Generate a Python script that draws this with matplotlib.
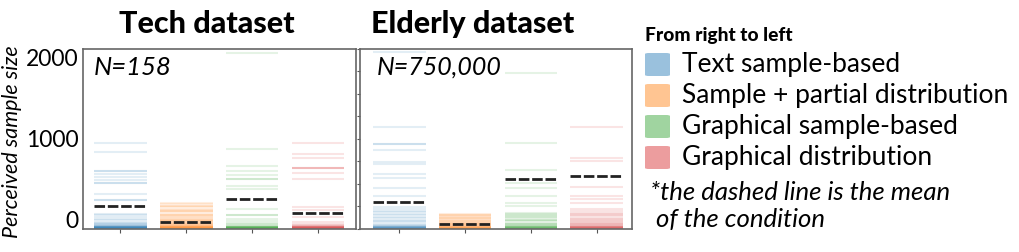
import matplotlib
matplotlib.use('Agg')
import matplotlib.pyplot as plt
from matplotlib.patches import FancyBboxPatch

plt.rcParams['font.family'] = ['Lato', 'DejaVu Sans']


## Data: one line per answer ##
conditions = ['Text sample-based', 'Sample + partial distribution',
              'Graphical sample-based', 'Graphical distribution']
colors = ['#1f77b4', '#ff7f0e', '#2ca02c', '#d62728']

tech_text = [953, 850, 636, 636, 606, 569, 539, 509, 509, 383, 317, 317,
             160, 153, 124, 110, 94, 75, 64, 55, 45, 36, 30, 25, 25, 20, 20,
             18, 15, 15, 12, 10, 10, 10, 8, 5, 5, 5, 0, 0, 0]
tech_partial = [280, 268, 255, 245, 236, 222, 210, 200, 190, 178, 166, 155,
                145, 140, 130, 120, 110, 100, 95, 88, 80, 72, 65, 58, 50,
                45, 40, 35, 30, 28, 25, 22, 20, 18, 15, 12, 10, 10, 8, 5, 5,
                0, 0, 0, 0, 0]
tech_graph_sample = [1953, 887, 694, 642, 591, 553, 553, 472, 436, 220, 147,
                     147, 109, 80, 65, 50, 35, 25, 20, 20, 18, 15, 15, 12, 10,
                     10, 8, 5, 5, 0, 0, 0, 0]
tech_graph_dist = [953, 828, 783, 672, 672, 672, 613, 553, 236, 205, 124, 72,
                   50, 40, 30, 25, 20, 18, 15, 13, 12, 10, 10, 8, 5, 5, 0, 0,
                   0]
tech_means = [253, 76, 331, 176]

elderly_text = [1958, 1131, 936, 936, 872, 742, 713, 606, 558, 453, 364,
                240, 220, 200, 185, 165, 150, 130, 115, 100, 85, 70, 55, 40,
                30, 25, 20, 18, 15, 12, 10, 10, 8, 5, 5, 0, 0, 0]
elderly_partial = [161, 155, 146, 138, 130, 122, 112, 104, 95, 88, 80, 72,
                   65, 58, 52, 46, 40, 34, 28, 25, 22, 18, 15, 12, 10, 8, 5,
                   5, 0, 0, 0, 0, 0]
elderly_graph_sample = [1731, 947, 650, 502, 453, 364, 280, 250, 169, 160,
                        150, 138, 125, 112, 100, 90, 78, 66, 55, 45, 35, 28,
                        25, 20, 18, 15, 12, 10, 8, 5, 5, 0, 0, 0, 0]
elderly_graph_dist = [1131, 783, 753, 464, 361, 331, 287, 213, 190, 172, 160,
                      148, 135, 120, 108, 95, 85, 75, 65, 55, 45, 35, 28, 25,
                      20, 18, 15, 12, 10, 8, 5, 5, 0, 0, 0, 0]
elderly_means = [291, 50, 553, 583]

ylabels = [0, 1000, 2000]
yminor = [0, 250, 500, 750, 1000, 1250, 1500, 1750, 2000]


## Figure layout in pixels ##
W, H = 1019, 252
fig = plt.figure(figsize=(W / 100, H / 100), dpi=100)


def px_axes(x0, y0, x1, y1):
    return fig.add_axes([x0 / W, 1 - y1 / H, (x1 - x0) / W, (y1 - y0) / H])


def draw_panel(ax, answers, means, xlim):
    for i, vals in enumerate(answers):
        ax.hlines(vals, i - 0.4, i + 0.4, color=colors[i], alpha=0.12, lw=1.5)
        ax.plot([i - 0.4, i + 0.4], [means[i], means[i]], color='#222222',
                lw=2, ls=(0, (3.8, 1.0)))
    ax.set_xlim(*xlim)
    ax.set_ylim(0, 2000)
    ax.set_xticks(range(4))
    ax.set_xticklabels([])
    ax.tick_params(axis='x', length=3, color='#555555')
    for sp in ax.spines.values():
        sp.set_color('#666666')
        sp.set_linewidth(1.2)


ax1 = px_axes(83, 48.5, 356, 228.5)
draw_panel(ax1, [tech_text, tech_partial, tech_graph_sample, tech_graph_dist],
           tech_means, (-0.57, 3.58))
ax1.set_yticks(ylabels)
ax1.set_yticklabels([str(t) for t in ylabels], fontsize=16.5)
ax1.tick_params(axis='y', length=0, pad=3)
tick_texts = ax1.get_yticklabels()
tick_texts[0].set_va('baseline')
tick_texts[-1].set_va('top')
ax1.text(0.04, 0.853, 'N=158', transform=ax1.transAxes, fontsize=18.5,
         style='italic')

ax2 = px_axes(360, 48.5, 632, 228.5)
draw_panel(ax2, [elderly_text, elderly_partial, elderly_graph_sample,
                 elderly_graph_dist], elderly_means, (-0.6, 3.54))
ax2.set_yticks(yminor)
ax2.set_yticklabels([])
ax2.tick_params(axis='y', length=2.5, color='#555555', width=0.8)
ax2.text(0.0625, 0.853, 'N=750,000', transform=ax2.transAxes, fontsize=18,
         style='italic')

fig.text(207 / W, 1 - 33 / H, 'Tech dataset', ha='center', va='baseline',
         fontsize=22, fontweight='black')
fig.text(473 / W, 1 - 33 / H, 'Elderly dataset', ha='center', va='baseline',
         fontsize=22, fontweight='black')
fig.text(12 / W, 1 - 142 / H, 'Perceived sample size', rotation=90,
         ha='center', va='center', fontsize=15.5, style='italic')


## Legend ##
fig.text(645 / W, 1 - 35 / H, 'From right to left', ha='left', va='center',
         fontsize=13.8, fontweight='black')
for i, label in enumerate(conditions):
    top = 53 + i * 31
    fig.patches.append(FancyBboxPatch(
        (645 / W, 1 - (top + 23) / H), 25 / W, 23 / H,
        boxstyle='round,pad=0,rounding_size=0.004',
        transform=fig.transFigure, facecolor=colors[i], alpha=0.45,
        edgecolor='none'))
    fig.text(682 / W, 1 - (top + 11.5) / H, label, ha='left', va='center',
             fontsize=19)
fig.text(650 / W, 1 - 192 / H, '*the dashed line is the mean', ha='left',
         va='center', fontsize=18.5, style='italic')
fig.text(650 / W, 1 - 220 / H, ' of the condition', ha='left',
         va='center', fontsize=18.5, style='italic')

fig.savefig('out.png', dpi=100)
